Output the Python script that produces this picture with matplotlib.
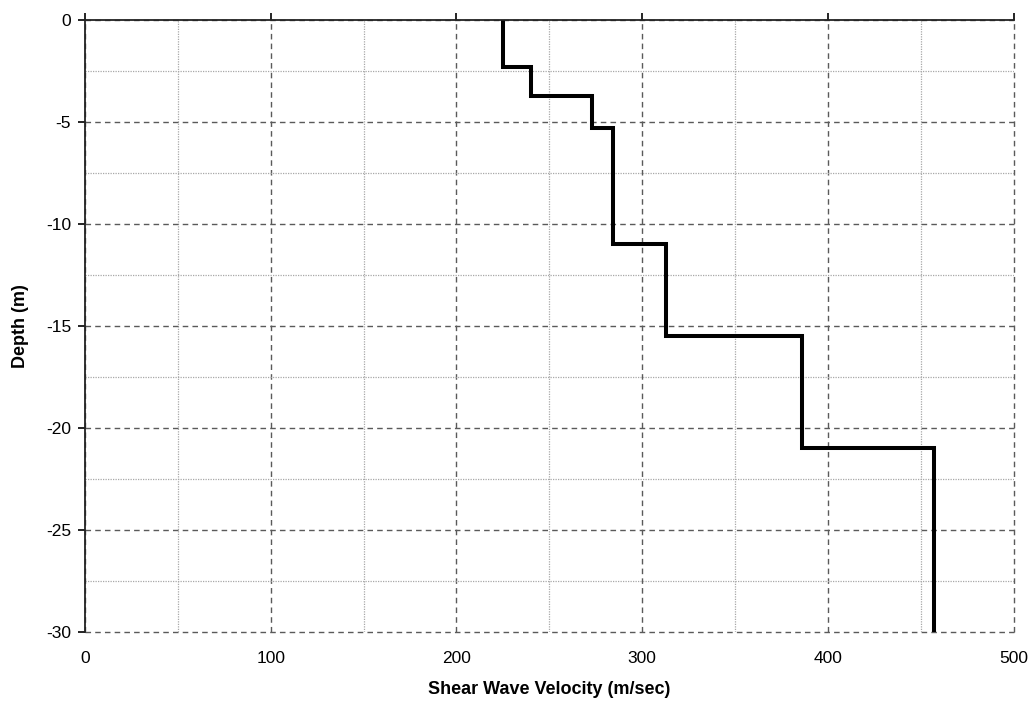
import numpy as np
import matplotlib
matplotlib.use('Agg')
import matplotlib.pyplot as plt
from matplotlib.ticker import MultipleLocator

plt.rcParams['font.family'] = ['Liberation Sans', 'DejaVu Sans']
plt.rcParams['axes.unicode_minus'] = False

# layered shear wave velocity profile
velocity = [225, 240, 273, 284, 313, 386, 457]      # m/sec
layer_bottom = [2.3, 3.75, 5.3, 11.0, 15.5, 21.0, 30.0]  # m below surface

# build step line: each layer is a vertical segment, joined by horizontals
xs, ys = [], []
top = 0.0
for v, bot in zip(velocity, layer_bottom):
    xs += [v, v]
    ys += [-top, -bot]
    top = bot

fig = plt.figure(figsize=(10.34, 7.06), dpi=100)
ax = fig.add_axes([0.0822, 0.1052, 0.8982, 0.8665])

ax.plot(xs, ys, color='black', lw=2.9, solid_joinstyle='miter', zorder=3)

ax.set_xlim(0, 500)
ax.set_ylim(-30, 0)
ax.xaxis.set_major_locator(MultipleLocator(100))
ax.xaxis.set_minor_locator(MultipleLocator(50))
ax.yaxis.set_major_locator(MultipleLocator(5))
ax.yaxis.set_minor_locator(MultipleLocator(2.5))

ax.grid(which='major', color='#5a5a5a', linestyle=(0, (4, 3)), lw=1.0)
ax.grid(which='minor', color='#a8a8a8', linestyle=(0, (1, 1)), lw=0.9)
ax.set_axisbelow(True)
# keep the gridlines on the plot edges fully visible
for gl in ax.get_xgridlines() + ax.get_ygridlines():
    gl.set_clip_on(False)

for s in ['right', 'bottom']:
    ax.spines[s].set_visible(False)
for s in ['top', 'left']:
    ax.spines[s].set_color('#222222')
    ax.spines[s].set_linewidth(1.3)
    ax.spines[s].set_zorder(4)

# x axis line sits at depth 0 (top), labels drawn below the plot
ax.tick_params(axis='x', which='major', top=True, bottom=False, labeltop=False,
               labelbottom=True, direction='out', length=5, width=1.2,
               pad=9, labelsize=12.5)
ax.tick_params(axis='x', which='minor', top=False, bottom=False)
ax.tick_params(axis='y', which='major', left=True, direction='out', length=5,
               width=1.2, pad=5, labelsize=12.5)
ax.tick_params(axis='y', which='minor', left=False)

ax.set_xlabel('Shear Wave Velocity (m/sec)', fontweight='bold', fontsize=13, labelpad=11)
ax.set_ylabel('Depth (m)', fontweight='bold', fontsize=13, labelpad=12)

fig.savefig('out.png', dpi=100)
